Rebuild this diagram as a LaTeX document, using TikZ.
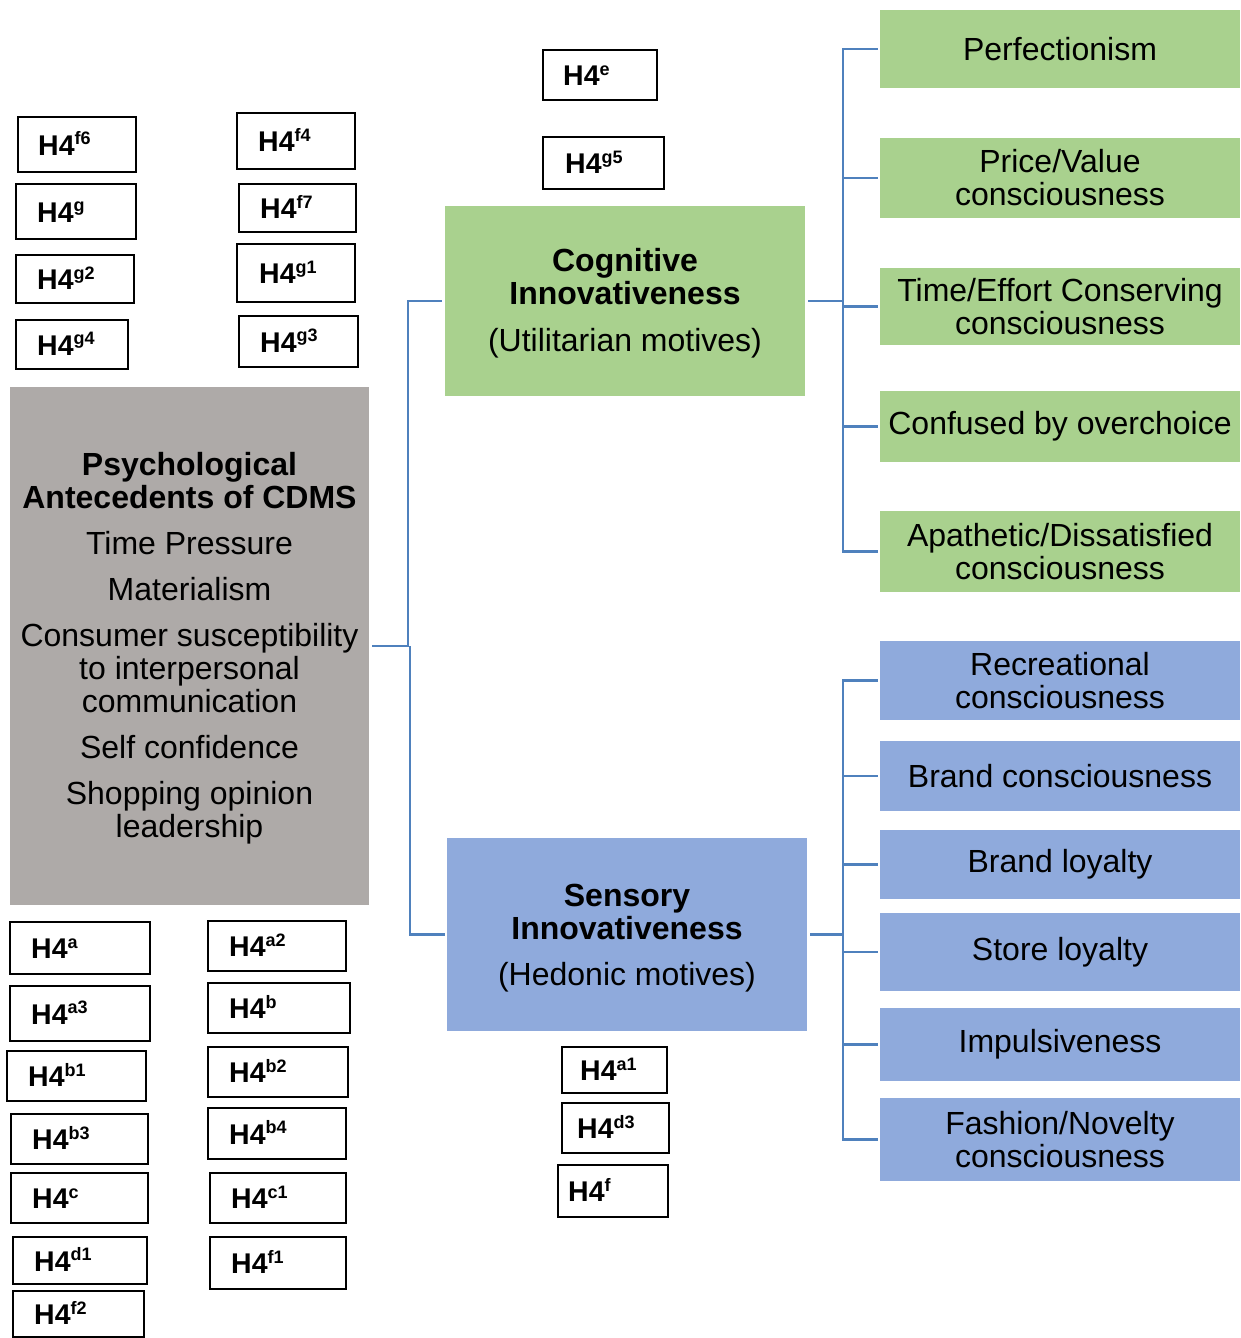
\documentclass[tikz,border=0pt]{standalone}
\usepackage{fontspec}
\setmainfont{Liberation Sans}
\usetikzlibrary{calc}

\definecolor{catgreen}{RGB}{169,209,142}
\definecolor{catblue}{RGB}{143,170,220}
\definecolor{antegrey}{RGB}{174,170,168}
\definecolor{linkblue}{RGB}{79,129,189}

\newcommand\catfont{\fontsize{32}{33}\selectfont}
\newcommand\hypfont{\fontsize{28.5}{30}\selectfont\bfseries}
\newcommand\hypsup[1]{\raisebox{10.5pt}{\fontsize{18}{18}\selectfont #1}}

% hypothesis tag: name, left, top, right, bottom, text x, superscript
\newcommand\hyp[7]{%
  \node[hframe, minimum width={(#4-#2)*1pt}, minimum height={(#5-#3)*1pt}]
    (#1) at ({(#2+#4)/2},{(#3+#5)/2}) {};
  \node[hlabel] (#1-txt) at ({#6},{(#3+#5)/2+10.5}) {H4\hypsup{#7}};%
}

\tikzset{
  hframe/.style={draw=black, line width=1.3pt, fill=white, inner sep=0pt, rectangle},
  hlabel/.style={anchor=base west, inner sep=0pt, font=\hypfont},
  catbox/.style={rectangle, inner sep=0pt, align=center, font=\catfont, minimum width=360pt},
  mainbox/.style={rectangle, inner sep=0pt, align=center, font=\catfont},
  link/.style={draw=linkblue, line width=2.6pt},
}

\begin{document}
\begin{tikzpicture}[x=1pt, y=-1pt]
\useasboundingbox (0,0) rectangle (1241,1338);

% central constructs
\node[mainbox, fill=antegrey, minimum width=359pt, minimum height=518pt] (psy) at (189.5,646)
  {\rule{0pt}{27pt}\textbf{Psychological}\\\textbf{Antecedents of CDMS}\\[13pt]
   Time Pressure\\[13pt]
   Materialism\\[13pt]
   Consumer susceptibility\\to interpersonal\\communication\\[13pt]
   Self confidence\\[13pt]
   Shopping opinion\\leadership};

\node[mainbox, fill=catgreen, minimum width=360pt, minimum height=190pt] (cog) at (625,301)
  {\rule{0pt}{27pt}\textbf{Cognitive}\\\textbf{Innovativeness}\\[14pt](Utilitarian motives)};

\node[mainbox, fill=catblue, minimum width=360pt, minimum height=193pt] (sen) at (627,934.5)
  {\rule{0pt}{29pt}\textbf{Sensory}\\\textbf{Innovativeness}\\[13pt](Hedonic motives)};

% utilitarian decision-making styles
\node[catbox, fill=catgreen, minimum height=78pt] (perf)  at (1060,49)    {Perfectionism};
\node[catbox, fill=catgreen, minimum height=80pt] (price) at (1060,178)   {Price/Value\\consciousness};
\node[catbox, fill=catgreen, minimum height=77pt] (time)  at (1060,306.5) {Time/Effort Conserving\\consciousness};
\node[catbox, fill=catgreen, minimum height=71pt] (conf)  at (1060,426.5) {Confused by overchoice};
\node[catbox, fill=catgreen, minimum height=81pt] (apat)  at (1060,551.5) {Apathetic/Dissatisfied\\consciousness};

% hedonic decision-making styles
\node[catbox, fill=catblue, minimum height=79pt] (recr)  at (1060,680.5)  {Recreational\\consciousness};
\node[catbox, fill=catblue, minimum height=70pt] (brcon) at (1060,776)    {Brand consciousness};
\node[catbox, fill=catblue, minimum height=69pt] (brloy) at (1060,864.5)  {Brand loyalty};
\node[catbox, fill=catblue, minimum height=78pt] (store) at (1060,952)    {Store loyalty};
\node[catbox, fill=catblue, minimum height=73pt] (impul) at (1060,1044.5) {Impulsiveness};
\node[catbox, fill=catblue, minimum height=83pt] (fash)  at (1060,1139.5) {Fashion/Novelty\\consciousness};

% connectors
\coordinate (lj) at (408,646);
\coordinate (rjc) at (843,301);
\coordinate (rjs) at (843,934.5);
\draw[link] ([xshift=3pt]psy.east) -- (lj) |- ([xshift=-3pt]cog.west);
\draw[link] ([xshift=2pt]lj) |- ([xshift=-2pt]sen.west);
\draw[link] ([xshift=3pt]cog.east) -- (rjc);
\foreach \t in {perf,price,time,conf,apat}
  \draw[link] (rjc) |- ([xshift=-2pt]\t.west);
\draw[link] ([xshift=3pt]sen.east) -- (rjs);
\foreach \t in {recr,brcon,brloy,store,impul,fash}
  \draw[link] (rjs) |- ([xshift=-2pt]\t.west);

% hypothesis tags, upper left
\hyp{hf6}{18}{117}{136}{172}{38}{f6}
\hyp{hg}{16}{184}{136}{239}{37}{g}
\hyp{hg2}{16}{255}{134}{303}{37}{g2}
\hyp{hg4}{16}{320}{128}{369}{37}{g4}
\hyp{hf4}{237}{113}{355}{169}{258}{f4}
\hyp{hf7}{239}{184}{356}{232}{260}{f7}
\hyp{hg1}{237}{244}{355}{302}{259}{g1}
\hyp{hg3}{239}{316}{358}{367}{260}{g3}

% hypothesis tags, upper middle
\hyp{he}{543}{50}{657}{100}{563}{e}
\hyp{hg5}{543}{137}{664}{189}{565}{g5}

% hypothesis tags, lower left
\hyp{ha}{10}{922}{150}{974}{31}{a}
\hyp{ha3}{10}{986}{150}{1041}{31}{a3}
\hyp{hb1}{7}{1051}{146}{1101}{28}{b1}
\hyp{hb3}{11}{1114}{148}{1164}{32}{b3}
\hyp{hc}{11}{1173}{148}{1223}{32}{c}
\hyp{hd1}{13}{1237}{147}{1284}{34}{d1}
\hyp{hf2}{13}{1291}{144}{1337}{34}{f2}
\hyp{ha2}{208}{921}{346}{971}{229}{a2}
\hyp{hb}{208}{983}{350}{1033}{229}{b}
\hyp{hb2}{208}{1047}{348}{1097}{229}{b2}
\hyp{hb4}{208}{1108}{346}{1159}{229}{b4}
\hyp{hc1}{210}{1173}{346}{1223}{231}{c1}
\hyp{hf1}{210}{1237}{346}{1289}{231}{f1}

% hypothesis tags, lower middle
\hyp{ha1}{562}{1047}{667}{1093}{580}{a1}
\hyp{hd3}{562}{1103}{669}{1153}{577}{d3}
\hyp{hf}{558}{1165}{668}{1217}{568}{f}

\end{tikzpicture}
\end{document}
